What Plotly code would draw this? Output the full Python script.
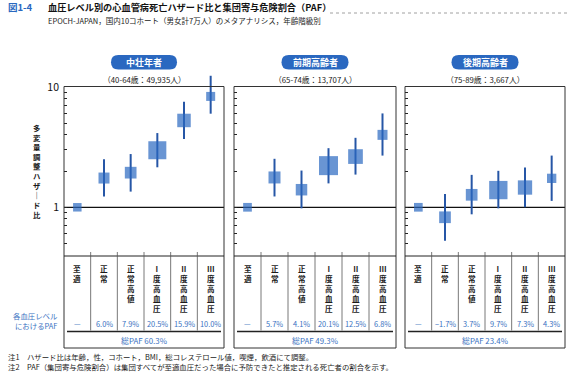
import plotly.graph_objects as go

# ---------------- data ----------------
categories = ["至適", "正常", "正常高値", "Ⅰ度高血圧", "Ⅱ度高血圧", "Ⅲ度高血圧"]
groups = ["中壮年者", "前期高齢者", "後期高齢者"]
group_notes = ["（40-64歳：49,935人）", "（65-74歳：13,707人）", "（75-89歳：3,667人）"]

hr_young = [1.0, 1.75, 1.94, 2.98, 5.27, 8.35]
lo_young = [1.0, 1.23, 1.35, 2.15, 3.69, 6.0]
hi_young = [1.0, 2.51, 2.77, 4.14, 7.55, 12.4]

hr_early = [1.0, 1.77, 1.40, 2.22, 2.64, 4.0]
lo_early = [1.0, 1.23, 0.98, 1.58, 1.87, 2.69]
hi_early = [1.0, 2.53, 2.02, 3.10, 3.78, 6.03]

hr_late = [1.0, 0.826, 1.27, 1.39, 1.46, 1.74]
lo_late = [1.0, 0.527, 0.874, 0.98, 1.0, 1.13]
hi_late = [1.0, 1.29, 1.86, 2.01, 2.14, 2.69]

paf_young = ["—", "6.0%", "7.9%", "20.5%", "15.9%", "10.0%"]
paf_early = ["—", "5.7%", "4.1%", "20.1%", "12.5%", "6.8%"]
paf_late = ["—", "−1.7%", "3.7%", "9.7%", "7.3%", "4.3%"]
total_paf = ["総PAF 60.3%", "総PAF 49.3%", "総PAF 23.4%"]

y_ticks = [0.5, 0.6, 0.7, 0.8, 0.9, 1, 2, 3, 4, 5, 6, 7, 8, 9, 10]
y_tick_labels = ["", "", "", "", "", "1", "", "", "", "", "", "", "", "", "10"]

title_fig = "図1-4"
title_main = "血圧レベル別の心血管病死亡ハザード比と集団寄与危険割合（PAF）"
subtitle = "EPOCH-JAPAN，国内10コホート（男女計7万人）のメタアナリシス，年齢階級別"
y_title = "多変量調整ハザード比"
row_label = "各血圧レベル<br>におけるPAF"
notes = ["注1　ハザード比は年齢，性，コホート，BMI，総コレステロール値，喫煙，飲酒にて調整。",
         "注2　PAF（集団寄与危険割合）は集団すべてが至適血圧だった場合に予防できたと推定される死亡者の割合を示す。"]

# ---------------- style ----------------
W, H = 567, 383
FONT = "Noto Sans CJK JP, sans-serif"
BLUE = "#2a68c0"
WHISK = "#2656a6"
TXTBLUE = "#3a72c2"
box_px = [[8.5, 11, 11.7, 18, 13.5, 9],
          [8.7, 12, 11.5, 19, 14.7, 10],
          [8.7, 11.7, 11.7, 18.3, 14.3, 9.3]]
panels_x = [(64, 224), (234, 396), (405, 565)]
plot_top, plot_bot, frame_top, frame_bot = 87, 256, 86.5, 348
y_lo, y_hi = -0.405, 1.0
px_per_dec = (plot_bot - plot_top) / (y_hi - y_lo)
y_hi_ext = 1.15                      # extend axis above frame so the top whisker is not clipped
dom_top = plot_top - (y_hi_ext - y_hi) * px_per_dec
line_y = 331.5


def X(px):
    return px / W


def Y(py):
    return 1 - py / H


series = [(hr_young, lo_young, hi_young, paf_young),
          (hr_early, lo_early, hi_early, paf_early),
          (hr_late, lo_late, hi_late, paf_late)]

fig = go.Figure()
shapes = []
ann = []

for i, ((hr, lo, hi, paf), (x0, x1)) in enumerate(zip(series, panels_x)):
    sfx = "" if i == 0 else str(i + 1)
    xa, ya = "x" + sfx, "y" + sfx
    fig.add_trace(go.Scatter(
        x=list(range(len(categories))), y=hr, xaxis=xa, yaxis=ya,
        mode="markers", cliponaxis=False, showlegend=False, hoverinfo="skip",
        marker=dict(symbol="square", size=box_px[i], color=BLUE, line=dict(width=0)),
        error_y=dict(type="data", symmetric=False,
                     array=[h - v for h, v in zip(hi, hr)],
                     arrayminus=[v - l for v, l in zip(hr, lo)],
                     thickness=2, width=0, color=WHISK),
    ))
    fig.layout["xaxis" + sfx] = dict(
        domain=[X(x0), X(x1)], anchor=ya, range=[-0.5, 5.5],
        showgrid=False, zeroline=False, showticklabels=False, ticks="", showline=False)
    fig.layout["yaxis" + sfx] = dict(
        domain=[Y(plot_bot), Y(dom_top)], anchor=xa, type="log",
        range=[y_lo, y_hi_ext], showgrid=False, zeroline=False, showline=False,
        tickmode="array", tickvals=y_ticks, ticktext=y_tick_labels,
        showticklabels=(i == 0), ticks="inside", ticklen=3, tickwidth=1,
        tickcolor="#222", tickfont=dict(size=10.5, color="#111", family=FONT),
        ticklabelstandoff=4, automargin=False)

    # frame
    shapes.append(dict(type="rect", xref="paper", yref="paper",
                       x0=X(x0), x1=X(x1), y0=Y(frame_bot), y1=Y(frame_top),
                       line=dict(color="#333", width=1)))
    # reference line at HR = 1
    shapes.append(dict(type="line", xref=xa + " domain", yref=ya, x0=0, x1=1, y0=1, y1=1,
                       line=dict(color="#111", width=1.3), layer="below"))
    # table top line
    shapes.append(dict(type="line", xref="paper", yref="paper", x0=X(x0), x1=X(x1),
                       y0=Y(plot_bot), y1=Y(plot_bot), line=dict(color="#222", width=1)))
    # table bottom separator
    shapes.append(dict(type="line", xref="paper", yref="paper", x0=X(x0 + 3), x1=X(x1 - 3),
                       y0=Y(line_y), y1=Y(line_y), line=dict(color="#222", width=1.3)))
    # category dividers
    for k in range(1, len(categories)):
        shapes.append(dict(type="line", xref=xa, yref="paper", x0=k - 0.5, x1=k - 0.5,
                           y0=Y(line_y - 1), y1=Y(plot_bot - 4),
                           line=dict(color="#555", width=0.8)))
    # pill header
    cx = (x0 + x1) / 2
    pw = 66 if i == 0 else 67
    pl, pr, pt, pb = cx - pw / 2, cx + pw / 2, 55, 69.5
    r = (pb - pt) / 2
    pm = (pt + pb) / 2
    path = (f"M {X(pl + r)},{Y(pt)} L {X(pr - r)},{Y(pt)} "
            f"Q {X(pr)},{Y(pt)} {X(pr)},{Y(pm)} Q {X(pr)},{Y(pb)} {X(pr - r)},{Y(pb)} "
            f"L {X(pl + r)},{Y(pb)} Q {X(pl)},{Y(pb)} {X(pl)},{Y(pm)} "
            f"Q {X(pl)},{Y(pt)} {X(pl + r)},{Y(pt)} Z")
    shapes.append(dict(type="path", xref="paper", yref="paper", path=path,
                       fillcolor=BLUE, line=dict(width=0)))
    ann.append(dict(x=X(cx), y=Y(pm), xref="paper", yref="paper", text="<b>" + groups[i] + "</b>",
                    showarrow=False, font=dict(size=9, color="white", family=FONT),
                    xanchor="center", yanchor="middle"))
    ann.append(dict(x=X(cx), y=Y(79), xref="paper", yref="paper", text=group_notes[i],
                    showarrow=False, font=dict(size=7.8, color="#222", family=FONT),
                    xanchor="center", yanchor="middle"))
    # table texts
    for k, cat in enumerate(categories):
        ann.append(dict(x=k, y=Y(261), xref=xa, yref="paper",
                        text="<b>" + "<br>".join(list(cat)) + "</b>",
                        showarrow=False, font=dict(size=7.6, color="#1a1a1a", family=FONT),
                        xanchor="center", yanchor="top"))
        ann.append(dict(x=k, y=Y(323.5), xref=xa, yref="paper", text=paf[k],
                        showarrow=False, font=dict(size=7.4, color=TXTBLUE, family=FONT),
                        xanchor="center", yanchor="middle"))
    ann.append(dict(x=X(cx), y=Y(340), xref="paper", yref="paper", text=total_paf[i],
                    showarrow=False, font=dict(size=7.9, color=TXTBLUE, family=FONT),
                    xanchor="center", yanchor="middle"))

# titles
ann.append(dict(x=X(6), y=Y(7), xref="paper", yref="paper", text="<b>" + title_fig + "</b>",
                showarrow=False, font=dict(size=9.5, color=BLUE, family=FONT),
                xanchor="left", yanchor="middle"))
ann.append(dict(x=X(46), y=Y(7), xref="paper", yref="paper", text="<b>" + title_main + "</b>",
                showarrow=False, font=dict(size=9.2, color="#111", family=FONT),
                xanchor="left", yanchor="middle"))
ann.append(dict(x=X(46), y=Y(20), xref="paper", yref="paper", text=subtitle,
                showarrow=False, font=dict(size=7.5, color="#222", family=FONT),
                xanchor="left", yanchor="middle"))
shapes.append(dict(type="line", xref="paper", yref="paper", x0=X(330), x1=X(567),
                   y0=Y(13), y1=Y(13), line=dict(color="#888", width=0.8, dash="dot")))
# y title (vertical writing)
ann.append(dict(x=X(37), y=Y(171), xref="paper", yref="paper",
                text="<b>" + "<br>".join(list(y_title.replace("ー", "｜"))) + "</b>",
                showarrow=False, font=dict(size=7.4, color="#1a1a1a", family=FONT),
                xanchor="center", yanchor="middle"))
ann.append(dict(x=X(60), y=Y(320), xref="paper", yref="paper", text=row_label,
                showarrow=False, align="right", font=dict(size=7.4, color=TXTBLUE, family=FONT),
                xanchor="right", yanchor="middle"))
for j, n in enumerate(notes):
    ann.append(dict(x=X(6), y=Y(356 + 10 * j), xref="paper", yref="paper", text=n,
                    showarrow=False, font=dict(size=7.4, color="#222", family=FONT),
                    xanchor="left", yanchor="middle"))

fig.update_layout(
    width=W, height=H, margin=dict(l=0, r=0, t=0, b=0),
    paper_bgcolor="white", plot_bgcolor="rgba(0,0,0,0)",
    shapes=shapes, annotations=ann, showlegend=False,
    font=dict(family=FONT),
)
fig.write_html("out.html", config={"displayModeBar": False},
               post_script="document.body.style.margin='0';")
